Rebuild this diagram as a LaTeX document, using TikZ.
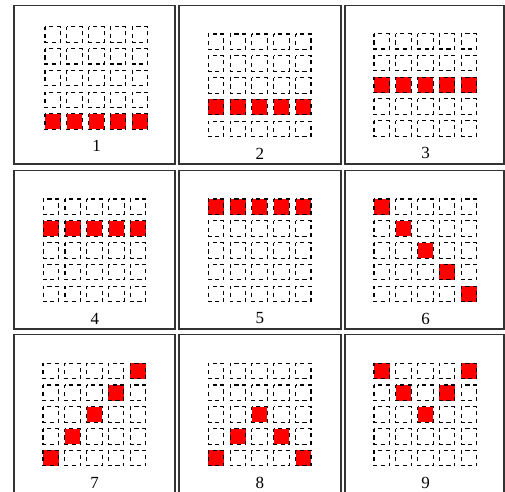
\documentclass[tikz,border=0pt]{standalone}
\usepackage{fontspec}
\setmainfont{Liberation Serif}
\newcommand\drawpanel[7]{%
  \draw[panel] (#2,#3) rectangle ++(#4,158.5);
  \foreach \c in {0,...,4}{\foreach \r in {0,...,4}{
    \draw[cell] ({#2+#5+21.8*\c},{#3+#6+21.8*\r}) rectangle ++(15.5,15.5);}}
  \foreach \c/\r in {#7}{
    \draw[redcell] ({#2+#5+21.8*\c},{#3+#6+21.8*\r}) rectangle ++(15.5,15.5);}
  \node[lbl] (label#1) at ({#2+#5+51.6},{#3+#6+119.5}) {#1};
}
\begin{document}
\begin{tikzpicture}[x=1pt,y=-1pt,
  panel/.style={draw=black!80,line width=1.6pt},
  cell/.style={draw=black,line width=1.1pt,dash pattern=on 4.2pt off 3.6pt,dash phase=1pt},
  redcell/.style={cell,fill=red},
  lbl/.style={font=\fontsize{17}{17}\selectfont,inner sep=0pt}]
\useasboundingbox (0,0) rectangle (505,491);
\fill[white] (0,0) rectangle (505,491);
\drawpanel{1}{14}{5.5}{161}{31}{21.2}{0/4,1/4,2/4,3/4,4/4}
\drawpanel{2}{179}{5.5}{162}{29.3}{28.5}{0/3,1/3,2/3,3/3,4/3}
\drawpanel{3}{345}{5.5}{159}{29}{28}{0/2,1/2,2/2,3/2,4/2}
\drawpanel{4}{14}{170.5}{161}{29.2}{28.5}{0/1,1/1,2/1,3/1,4/1}
\drawpanel{5}{179}{170.5}{162}{29.3}{28.5}{0/0,1/0,2/0,3/0,4/0}
\drawpanel{6}{345}{170.5}{159}{29}{28.5}{0/0,1/1,2/2,3/3,4/4}
\drawpanel{7}{14}{334.5}{161}{29}{28.7}{4/0,3/1,2/2,1/3,0/4}
\drawpanel{8}{179}{334.5}{162}{29.3}{28.7}{2/2,1/3,3/3,0/4,4/4}
\drawpanel{9}{345}{334.5}{159}{29}{28.7}{0/0,4/0,1/1,3/1,2/2}
\end{tikzpicture}
\end{document}
